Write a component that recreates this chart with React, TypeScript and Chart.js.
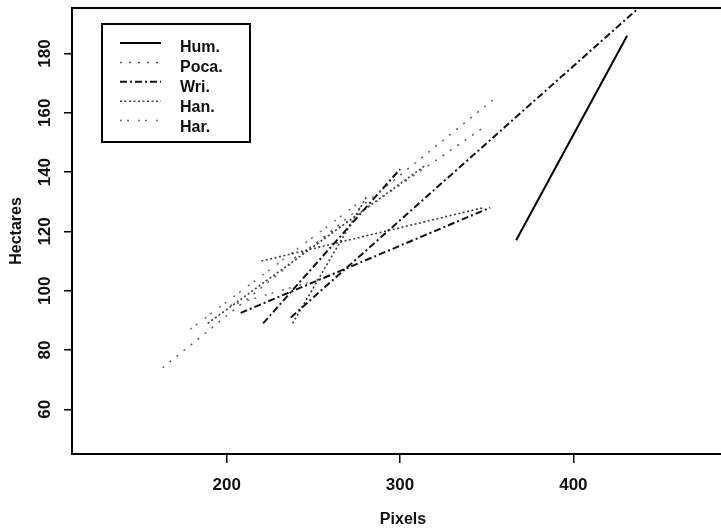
import React, { useEffect, useRef } from "react";
import { Chart, registerables } from "chart.js";

Chart.register(...registerables);

// ---------- data (null separates line segments of one series) ----------
const seriesNames = ["Hum.", "Poca.", "Wri.", "Han.", "Har."];

const humPixels = [367, 431];
const humHectares = [117, 186];

const pocaPixels = [163, 355, null, 239, 348];
const pocaHectares = [74, 165, null, 111, 155];

const wriPixels = [237, 437, null, 221, 300, null, 208, 352];
const wriHectares = [91, 195, null, 89, 141, null, 92.5, 128];

const hanPixels = [189, 314, null, 238, 281, null, 220, 348];
const hanHectares = [89, 142, null, 89, 132, null, 110, 128];

const harPixels = [179, 277, null, 202, 260];
const harHectares = [87, 130, null, 95, 105];

const xTickValues = [200, 300, 400];
const yTickValues = [60, 80, 100, 120, 140, 160, 180];

const xLabel = "Pixels";
const yLabel = "Hectares";

// ---------- styles ----------
const FONT = '"Liberation Sans", Arial, Helvetica, sans-serif';
const lineColors = ["#000000", "#5a5a5a", "#111111", "#3a3a3a", "#6a6a6a"];
const lineWidths = [2, 1.5, 2, 1.6, 1.5];
const lineDashes: number[][] = [[], [2, 7], [7, 3, 2, 3], [2, 2.5], [2, 5, 2, 9]];

function toPoints(xs: (number | null)[], ys: (number | null)[]) {
  return xs.map((x, i) => ({
    x: x === null ? (xs[i - 1] as number) : x,
    y: ys[i],
  }));
}

const allX = [humPixels, pocaPixels, wriPixels, hanPixels, harPixels];
const allY = [humHectares, pocaHectares, wriHectares, hanHectares, harHectares];

const framePlugin = {
  id: "rFrame",
  afterDraw(chart: any) {
    const { ctx, chartArea, scales } = chart;
    ctx.save();
    // plot box
    ctx.strokeStyle = "#000";
    ctx.lineWidth = 2;
    ctx.setLineDash([]);
    ctx.strokeRect(
      chartArea.left,
      chartArea.top,
      chartArea.right - chartArea.left,
      chartArea.bottom - chartArea.top
    );
    // y tick labels, parallel to axis
    const ys = scales.y;
    ctx.fillStyle = "#111";
    ctx.font = `bold 17px ${FONT}`;
    ctx.textAlign = "center";
    ctx.textBaseline = "middle";
    ys.ticks.forEach((t: any) => {
      const py = ys.getPixelForValue(t.value);
      ctx.save();
      ctx.translate(45, py);
      ctx.rotate(-Math.PI / 2);
      ctx.fillText(String(t.value), 0, 0);
      ctx.restore();
    });
    // legend
    ctx.lineWidth = 2;
    ctx.strokeStyle = "#000";
    ctx.strokeRect(102, 24, 148, 118);
    ctx.font = `bold 16px ${FONT}`;
    ctx.textAlign = "left";
    ctx.textBaseline = "alphabetic";
    chart.data.datasets.forEach((ds: any, i: number) => {
      const ly = 43 + i * 19.4;
      ctx.save();
      ctx.strokeStyle = ds.borderColor;
      ctx.lineWidth = ds.borderWidth;
      ctx.setLineDash(ds.borderDash || []);
      ctx.beginPath();
      ctx.moveTo(120, ly);
      ctx.lineTo(161, ly);
      ctx.stroke();
      ctx.restore();
      ctx.fillStyle = "#111";
      ctx.fillText(ds.label, 180, 51.5 + i * 20);
    });
    ctx.restore();
  },
};

export default function App() {
  const ref = useRef<HTMLCanvasElement | null>(null);

  useEffect(() => {
    if (!ref.current) return;
    const datasets = seriesNames.map((name, i) => ({
      label: name,
      data: toPoints(allX[i], allY[i]),
      borderColor: lineColors[i],
      borderWidth: lineWidths[i],
      borderDash: lineDashes[i],
      pointRadius: 0,
      fill: false,
      tension: 0,
      spanGaps: false,
    }));

    const chart = new Chart(ref.current, {
      type: "line",
      data: { datasets },
      options: {
        animation: false,
        responsive: false,
        devicePixelRatio: 1,
        layout: { padding: { top: 8, left: 0, right: 0, bottom: 0 } },
        plugins: { legend: { display: false }, tooltip: { enabled: false } },
        scales: {
          x: {
            type: "linear",
            min: 110.7,
            max: 492.7,
            afterBuildTicks: (s: any) => {
              s.ticks = xTickValues.map((v) => ({ value: v }));
            },
            afterFit: (s: any) => {
              s.height = 77;
            },
            grid: {
              drawOnChartArea: false,
              drawTicks: true,
              tickLength: 9,
              color: "#000",
              lineWidth: 1.5,
            },
            border: { display: false },
            ticks: {
              color: "#111",
              font: { family: FONT, size: 17, weight: "bold" },
              padding: 12,
              maxRotation: 0,
              autoSkip: false,
              callback: (v: any) => String(v),
            },
            title: {
              display: true,
              text: xLabel,
              color: "#111",
              font: { family: FONT, size: 16, weight: "bold" },
              padding: { top: 0, bottom: 2 },
            },
          },
          y: {
            type: "linear",
            min: 44.92,
            max: 195.35,
            afterBuildTicks: (s: any) => {
              s.ticks = yTickValues.map((v) => ({ value: v }));
            },
            afterFit: (s: any) => {
              s.width = 72;
            },
            grid: {
              drawOnChartArea: false,
              drawTicks: true,
              tickLength: 8,
              color: "#000",
              lineWidth: 1.5,
            },
            border: { display: false },
            ticks: { display: false },
            title: {
              display: true,
              text: yLabel,
              color: "#111",
              font: { family: FONT, size: 16, weight: "bold" },
              padding: { top: 7, bottom: 0 },
            },
          },
        },
      } as any,
      plugins: [framePlugin],
    });
    return () => chart.destroy();
  }, []);

  return (
    <div
      style={{
        position: "absolute",
        left: 0,
        top: 0,
        width: 721,
        height: 531,
        overflow: "hidden",
        background: "#fff",
      }}
    >
      <canvas ref={ref} width={734} height={531} style={{ display: "block" }} />
    </div>
  );
}
